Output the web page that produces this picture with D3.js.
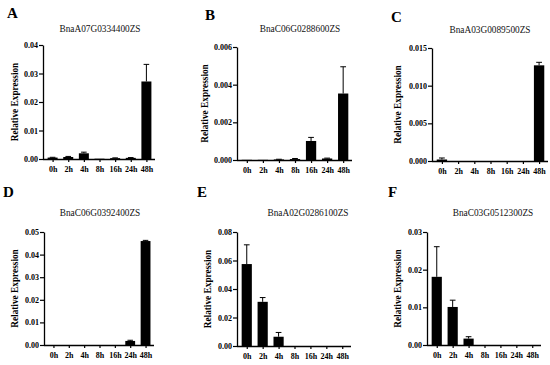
<!DOCTYPE html>
<html><head><meta charset="utf-8">
<script src="https://cdn.jsdelivr.net/npm/d3@7"></script>
<style>body{margin:0;background:#fff}svg{display:block}svg text{font-family:'Liberation Serif','Times New Roman',serif !important}</style>
</head><body>
<script>
const categories = ["0h","2h","4h","8h","16h","24h","48h"];
const geneNames = ["BnaA07G0334400ZS","BnaC06G0288600ZS","BnaA03G0089500ZS","BnaC06G0392400ZS","BnaA02G0286100ZS","BnaC03G0512300ZS"];
const panelLetters = ["A","B","C","D","E","F"];
const valuesA = [0.0005,0.0007,0.0020,0.0001,0.0003,0.0004,0.0272];
const errorsA = [0.0001,0.0002,0.0004,0.0000,0.0001,0.0001,0.0060];
const valuesB = [0.00001,0.00001,0.00003,0.00005,0.00101,0.00008,0.00353];
const errorsB = [0.00000,0.00000,0.00001,0.00003,0.00019,0.00002,0.00142];
const valuesC = [0.0002,0,0,0,0,0,0.0127];
const errorsC = [0.0002,0,0,0,0,0,0.0004];
const valuesD = [0,0,0,0,0,0.0018,0.0460];
const errorsD = [0,0,0,0,0,0.0003,0.0003];
const valuesE = [0.0575,0.0310,0.0065,0,0,0,0];
const errorsE = [0.0135,0.0030,0.0030,0,0,0,0];
const valuesF = [0.0181,0.0101,0.0017,0,0,0,0];
const errorsF = [0.0080,0.0018,0.0005,0,0,0,0];
const yTicksA = [0,0.01,0.02,0.03,0.04];
const yTicksB = [0,0.002,0.004,0.006];
const yTicksC = [0,0.005,0.010,0.015];
const yTicksD = [0,0.01,0.02,0.03,0.04,0.05];
const yTicksE = [0,0.02,0.04,0.06,0.08];
const yTicksF = [0,0.01,0.02,0.03];
const tickFormats = [".2f",".3f",".3f",".2f",".2f",".2f"];

const allValues = [valuesA,valuesB,valuesC,valuesD,valuesE,valuesF];
const allErrors = [errorsA,errorsB,errorsC,errorsD,errorsE,errorsF];
const allTicks = [yTicksA,yTicksB,yTicksC,yTicksD,yTicksE,yTicksF];

// layout per panel (pixel geometry)
const layout = [
  {x0:43, x1:155, yTop:45, yBot:159, tx:100, ty:32, lx:7, ly:18, ylx:15},
  {x0:237, x1:352, yTop:47, yBot:160, tx:300, ty:32, lx:205, ly:20, ylx:205},
  {x0:432, x1:548, yTop:48, yBot:161, tx:490, ty:33, lx:391, ly:22, ylx:398},
  {x0:44, x1:154, yTop:232, yBot:345, tx:100, ty:216, lx:3, ly:197, ylx:15},
  {x0:237, x1:351, yTop:232, yBot:346, tx:308, ty:216, lx:197, ly:197, ylx:208},
  {x0:427, x1:541, yTop:232, yBot:345, tx:493, ty:216, lx:388, ly:197, ylx:398}
];

const svg = d3.select("body").append("svg").attr("width",550).attr("height",365);

layout.forEach((L,i)=>{
  const vals = allValues[i], errs = allErrors[i], ticks = allTicks[i];
  const g = svg.append("g");
  const x = d3.scalePoint().domain(categories).range([L.x0+1, L.x1]).padding(0.55);
  const y = d3.scaleLinear().domain([0, ticks[ticks.length-1]]).range([L.yBot, L.yTop]);
  const bw = x.step()*0.64;

  // bars
  g.selectAll("rect.bar").data(vals).join("rect")
    .attr("x",(d,j)=>x(categories[j])-bw/2)
    .attr("y",d=>y(d))
    .attr("width",bw)
    .attr("height",d=>Math.max(0,L.yBot-y(d)))
    .attr("fill","#000");
  // error bars
  vals.forEach((v,j)=>{
    if(errs[j]<=0) return;
    const cx = x(categories[j]);
    g.append("line").attr("x1",cx).attr("x2",cx).attr("y1",y(v)).attr("y2",y(v+errs[j]))
      .attr("stroke","#000").attr("stroke-width",1);
    g.append("line").attr("x1",cx-bw*0.28).attr("x2",cx+bw*0.28).attr("y1",y(v+errs[j])).attr("y2",y(v+errs[j]))
      .attr("stroke","#000").attr("stroke-width",1);
  });

  // y axis
  const ya = d3.axisLeft(y).tickValues(ticks).tickFormat(d3.format(tickFormats[i])).tickSize(4).tickSizeOuter(0).tickPadding(1);
  const yg = g.append("g").attr("transform",`translate(${L.x0},0)`).call(ya);
  yg.select(".domain").attr("stroke-width",1.3);
  yg.selectAll(".tick line").attr("stroke-width",1.2);
  yg.selectAll("text").attr("font-size","8px").attr("font-weight","bold").attr("fill","#000");

  // x axis
  const xa = d3.axisBottom(x).tickSize(3).tickSizeOuter(0).tickPadding(4);
  const xg = g.append("g").attr("transform",`translate(0,${L.yBot})`).call(xa);
  xg.select(".domain").attr("d",`M${L.x0},0.5H${L.x1}`).attr("stroke-width",1.3);
  xg.selectAll(".tick line").attr("stroke-width",1.2);
  xg.selectAll("text").attr("font-size","8px").attr("font-weight","bold").attr("fill","#000");

  // title
  svg.append("text").attr("x",L.tx).attr("y",L.ty).attr("text-anchor","middle")
    .attr("font-size","9.3px").attr("fill","#111").text(geneNames[i]);
  // panel letter
  svg.append("text").attr("x",L.lx).attr("y",L.ly).attr("font-size","15px").attr("font-weight","bold")
    .text(panelLetters[i]);
  // y label
  svg.append("text").attr("transform",`translate(${L.ylx},${(L.yTop+L.yBot)/2}) rotate(-90)`)
    .attr("text-anchor","middle").attr("dy","0.35em").attr("font-size","9.3px").attr("font-weight","bold")
    .text("Relative Expression");
});
</script>
</body></html>
